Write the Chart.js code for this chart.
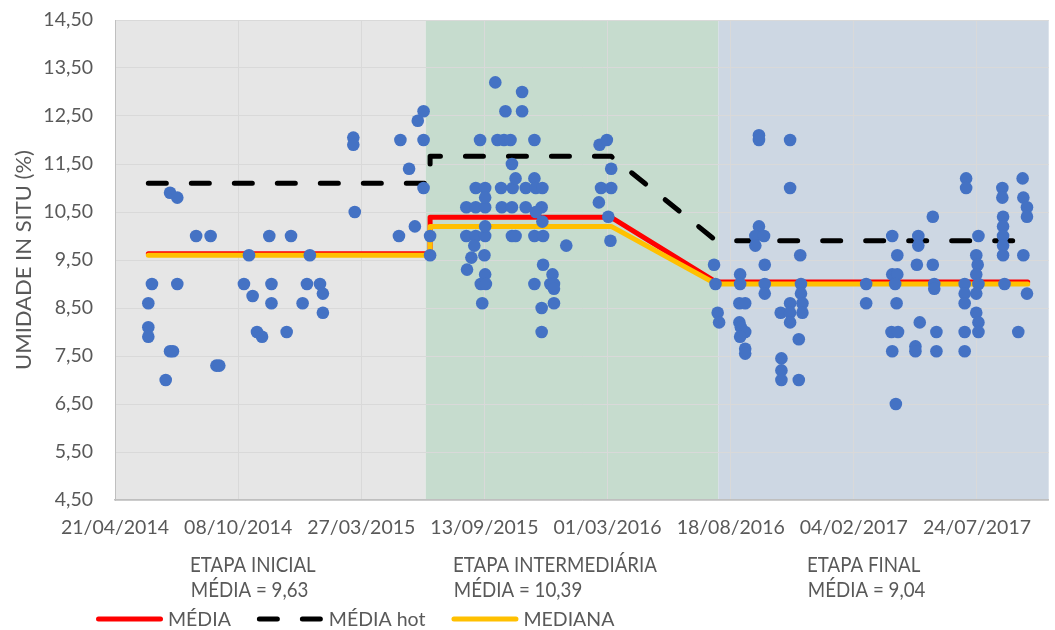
<!DOCTYPE html>
<html>
<head>
<meta charset="utf-8">
<script src="https://cdn.jsdelivr.net/npm/chart.js@4.4.1/dist/chart.umd.min.js"></script>
<style>
html,body{margin:0;padding:0;background:#ffffff;}
#wrap{width:1055px;height:630px;position:relative;}
</style>
</head>
<body>
<div id="wrap"><canvas id="c" width="1055" height="630"></canvas></div>
<script>
// Data de referência (dia 0 do eixo X)
const dataInicial = Date.UTC(2014, 3, 21);

// Leituras de umidade in situ: dia (desde 21/04/2014) e umidade (%)
const dias = [
  46,46,46,51,70,76,80,76,86,86,112,132,140,144,178,185,190,196,203,213,216,216,237,243,259,265,269,283,287,287,329,329,331,392,394,406,414,418,426,426,426,435,435,
  485,498,511,485,498,511,498,511,511,511,504,496,510,492,486,511,505,512,507,525,539,562,562,528,537,546,579,548,533,549,553,579,567,581,590,534,548,567,589,581,590,548,553,579,591,591,604,579,601,606,606,606,589,589,623,669,679,685,671,685,668,681,684,
  827,829,832,834,863,863,862,870,862,864,870,863,870,870,889,889,889,884,896,884,897,897,897,932,932,946,947,947,949,949,932,919,932,932,944,920,920,920,944,1037,1037,1073,1080,1073,1080,1077,1079,1072,1081,1073,1078,1109,1109,1107,1111,1105,1105,1129,1129,1131,1131,1134,1134,1175,1175,1192,1189,1191,1189,1173,1192,1173,1189,1173,1189,1192,1192,1173,1173,1225,1225,1226,1226,1226,1226,1226,1228,1253,1254,1259,1259,1254,1259,1247
];
const umidade = [
  8.6,8.1,7.9,9.0,7.0,7.6,7.6,10.9,10.8,9.0,10.0,10.0,7.3,7.3,9.0,9.6,8.75,8.0,7.9,10.0,9.0,8.6,8.0,10.0,8.6,9.0,9.6,9.0,8.8,8.4,12.05,11.9,10.5,10.0,12.0,11.4,10.2,12.4,12.6,12.0,11.0,10.0,9.6,
  10.6,10.6,10.6,10.0,10.0,10.0,11.0,11.0,10.8,10.2,12.0,9.8,9.6,9.55,9.3,9.2,9.0,9.0,8.6,13.2,12.6,13.0,12.6,12.0,12.0,12.0,12.0,11.5,11.0,11.0,11.2,11.2,11.0,11.0,11.0,10.6,10.6,10.6,10.6,10.5,10.3,10.0,10.0,10.0,10.0,9.4,9.2,9.0,9.0,9.0,8.9,8.6,8.5,8.0,9.8,11.9,12.0,11.4,11.0,11.0,10.7,10.4,9.9,
  9.4,9.0,8.4,8.2,9.2,9.0,8.6,8.6,8.2,8.1,8.0,7.9,7.65,7.55,12.1,12.0,10.2,10.0,10.0,9.8,9.4,9.0,8.8,12.0,11.0,9.6,9.0,8.8,8.6,8.4,8.6,8.4,8.4,8.2,7.85,7.45,7.2,7.0,7.0,9.0,8.6,10.0,9.6,9.2,9.2,9.0,8.6,8.0,8.0,7.6,6.5,10.0,9.8,9.4,8.2,7.7,7.6,10.4,9.4,9.0,8.9,8.0,7.6,11.2,11.0,10.0,9.6,9.4,9.2,9.0,9.0,8.8,8.8,8.6,8.4,8.2,8.0,8.0,7.6,11.0,10.8,10.4,10.2,10.0,9.8,9.6,9.0,11.2,10.8,10.6,10.4,9.6,8.8,8.0
];

// Linhas por etapa
const linhaDias = [46, 435, 435, 685, 830, 1260];
const media     = [9.63, 9.63, 10.39, 10.39, 9.04, 9.04];
const mediaHot  = [11.1, 11.1, 11.66, 11.66, 9.9, 9.9];
const mediana   = [9.6, 9.6, 10.2, 10.2, 9.0, 9.0];

// Etapas
const etapas      = ['ETAPA INICIAL', 'ETAPA INTERMEDIÁRIA', 'ETAPA FINAL'];
const mediaEtapa  = [9.63, 10.39, 9.04];
const etapaInicio = [0, 429, 833];
const etapaFim    = [429, 833, 1289];

// Marcas dos eixos
const xTicks = [0, 170, 340, 510, 680, 850, 1020, 1190];
const yTicks = [4.5, 5.5, 6.5, 7.5, 8.5, 9.5, 10.5, 11.5, 12.5, 13.5, 14.5];

// ---------- aparência ----------
const corTexto = '#595959';
const fonteBase = 'Lato, "Open Sans", sans-serif';

const fmtNum = v => v.toFixed(2).replace('.', ',');
const fmtData = v => {
  const d = new Date(dataInicial + v * 86400000);
  const p = n => String(n).padStart(2, '0');
  return p(d.getUTCDate()) + '/' + p(d.getUTCMonth() + 1) + '/' + d.getUTCFullYear();
};
const pts = (xs, ys) => xs.map((x, i) => ({x: x, y: ys[i]}));

const coresFaixa = ['#E6E6E6', '#C6DCCE', '#CDD7E3'];

const plugin = {
  id: 'etapas',
  beforeDraw(chart) {
    const {ctx, chartArea: a, scales: {x}} = chart;
    ctx.save();
    etapaInicio.forEach((ini, i) => {
      const x0 = Math.max(a.left, x.getPixelForValue(ini));
      const x1 = Math.min(a.right, x.getPixelForValue(etapaFim[i]));
      ctx.fillStyle = coresFaixa[i];
      ctx.fillRect(x0, a.top, x1 - x0, a.bottom - a.top);
    });
    ctx.restore();
  },
  afterDraw(chart) {
    const {ctx} = chart;
    // textos das etapas (fonte levemente condensada)
    const sx = 0.87;
    const ex = [190, 453, 807];
    etapas.forEach((t, i) => {
      ctx.save();
      ctx.translate(ex[i], 0);
      ctx.scale(sx, 1);
      ctx.fillStyle = corTexto;
      ctx.textBaseline = 'alphabetic';
      ctx.textAlign = 'left';
      ctx.font = '21.5px ' + fonteBase;
      ctx.fillText(t, 0, 572);
      ctx.fillText('MÉDIA = ' + fmtNum(mediaEtapa[i]), 1, 597);
      ctx.restore();
    });
    // legenda
    ctx.save();
    const ordem = [3, 2, 1];
    let lx = 96;
    const ly = 619;
    ctx.font = '19.5px ' + fonteBase;
    ordem.forEach(idx => {
      const ds = chart.data.datasets[idx];
      ctx.beginPath();
      ctx.strokeStyle = ds.borderColor;
      ctx.lineWidth = ds.borderWidth;
      ctx.lineCap = 'round';
      ctx.setLineDash(ds.borderDash || []);
      ctx.moveTo(lx + 2.5, ly);
      ctx.lineTo(lx + 64.5, ly);
      ctx.stroke();
      ctx.setLineDash([]);
      ctx.fillStyle = corTexto;
      ctx.textBaseline = 'middle';
      ctx.fillText(ds.label, lx + 72, ly + 1);
      lx += 72 + ctx.measureText(ds.label).width + 26;
    });
    ctx.restore();
  }
};

const linha = (label, ys, cor, extra) => Object.assign({
  type: 'line', label: label, data: pts(linhaDias, ys),
  borderColor: cor, backgroundColor: cor, borderWidth: 5,
  pointRadius: 0, pointHoverRadius: 0, fill: false, tension: 0,
  borderCapStyle: 'round', borderJoinStyle: 'round'
}, extra);

new Chart(document.getElementById('c'), {
  type: 'scatter',
  data: {
    datasets: [
      {label: 'UMIDADE', data: pts(dias, umidade), backgroundColor: '#4472C4', borderColor: '#4472C4',
       pointRadius: 6.3, pointHoverRadius: 6.3, borderWidth: 0, order: 0},
      linha('MEDIANA', mediana, '#FFC000', {order: 1}),
      linha('MÉDIA hot', mediaHot, '#000000', {order: 2, borderDash: [18, 25]}),
      linha('MÉDIA', media, '#FF0000', {order: 3})
    ]
  },
  options: {
    responsive: false,
    animation: false,
    devicePixelRatio: 1,
    layout: {padding: {left: 0, right: 0, top: 20, bottom: 74.6}},
    plugins: {legend: {display: false}, tooltip: {enabled: false}},
    scales: {
      x: {
        type: 'linear', position: 'bottom', min: 0, max: 1289,
        afterBuildTicks: s => { s.ticks = xTicks.map(v => ({value: v})); },
        ticks: {callback: v => fmtData(v), color: corTexto, font: {family: fonteBase, size: 19.5},
                padding: 16, maxRotation: 0, autoSkip: false, includeBounds: false},
        grid: {color: '#D9D9D9', drawTicks: false, lineWidth: 1},
        border: {color: '#BFBFBF', width: 1.5}
      },
      y: {
        min: 4.5, max: 14.5,
        afterBuildTicks: s => { s.ticks = yTicks.map(v => ({value: v})); },
        afterFit: s => { s.width = 115; s.paddingTop = 0; s.paddingBottom = 0; },
        ticks: {callback: v => fmtNum(v), color: corTexto, font: {family: fonteBase, size: 19.5}, padding: 22},
        grid: {color: '#D9D9D9', drawTicks: false, lineWidth: 1},
        border: {color: '#BFBFBF', width: 1},
        title: {display: true, text: 'UMIDADE IN SITU (%)', color: corTexto,
                font: {family: fonteBase, size: 22, weight: 'normal'}, padding: {top: 11, bottom: 6}}
      }
    }
  },
  plugins: [plugin]
});
</script>
</body>
</html>
